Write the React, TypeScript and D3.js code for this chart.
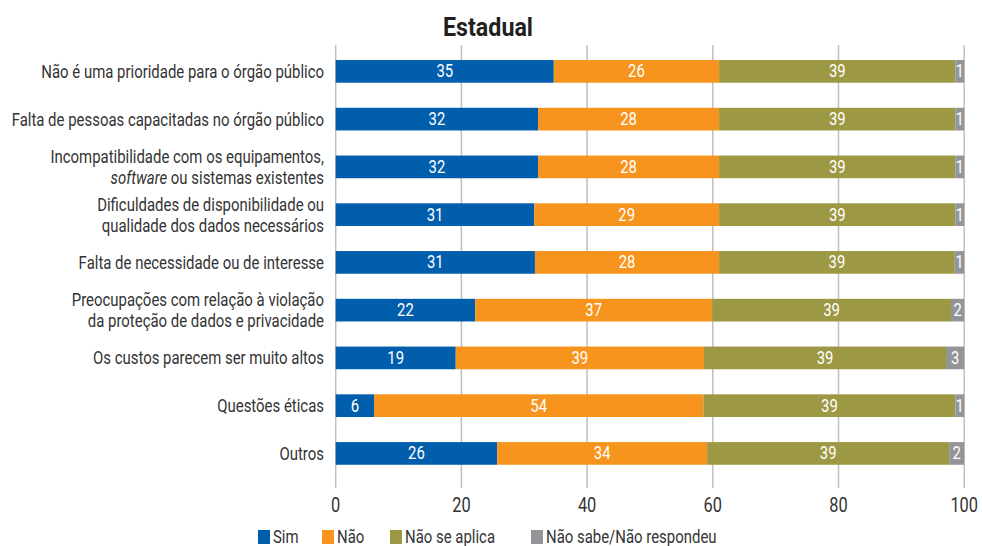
import React from "react";
import * as d3 from "d3";

const categories: string[][] = [
  ["Não é uma prioridade para o órgão público"],
  ["Falta de pessoas capacitadas no órgão público"],
  ["Incompatibilidade com os equipamentos,", "*software* ou sistemas existentes"],
  ["Dificuldades de disponibilidade ou", "qualidade dos dados necessários"],
  ["Falta de necessidade ou de interesse"],
  ["Preocupações com relação à violação", "da proteção de dados e privacidade"],
  ["Os custos parecem ser muito altos"],
  ["Questões éticas"],
  ["Outros"],
];

const seriesNames = ["Sim", "Não", "Não se aplica", "Não sabe/Não respondeu"];

// bar widths
const sim = [34.7, 32.2, 32.2, 31.6, 31.7, 22.2, 19.1, 6.1, 25.7];
const nao = [26.3, 28.8, 28.8, 29.4, 29.3, 37.7, 39.5, 52.4, 33.4];
const naoSeAplica = [37.6, 37.6, 37.6, 37.6, 37.5, 38.0, 38.5, 40.1, 38.5];
const naoSabe = [1.4, 1.4, 1.4, 1.4, 1.5, 2.1, 2.9, 1.4, 2.4];

// printed data labels
const simLabels = [35, 32, 32, 31, 31, 22, 19, 6, 26];
const naoLabels = [26, 28, 28, 29, 28, 37, 39, 54, 34];
const naoSeAplicaLabels = [39, 39, 39, 39, 39, 39, 39, 39, 39];
const naoSabeLabels = [1, 1, 1, 1, 1, 2, 3, 1, 2];

const xTicks = [0, 20, 40, 60, 80, 100];
const colors = ["#005EAD", "#F7941D", "#9C9843", "#939598"];

const FONT = "Roboto, 'Noto Sans', sans-serif";
const SX = 0.83;

type TProps = {
  x: number;
  y: number;
  anchor?: "start" | "middle" | "end";
  size: number;
  fill: string;
  weight?: string;
  sx?: number;
  children: React.ReactNode;
};

function T({ x, y, anchor = "start", size, fill, weight = "normal", sx = SX, children }: TProps) {
  return (
    <g transform={`translate(${x},${y}) scale(${sx},1)`}>
      <text textAnchor={anchor} fontSize={size} fill={fill} fontWeight={weight}>
        {children}
      </text>
    </g>
  );
}

export default function App() {
  const W = 982;
  const H = 546;
  const x = d3.scaleLinear().domain([0, 100]).range([335.7, 964.2]);
  const y = d3
    .scaleBand<number>()
    .domain(d3.range(categories.length))
    .range([47.5, 477.3])
    .paddingInner(0.525)
    .paddingOuter(0.2625);

  const values = [sim, nao, naoSeAplica, naoSabe];
  const labels = [simLabels, naoLabels, naoSeAplicaLabels, naoSabeLabels];

  const rows = categories.map((_, i) => {
    let acc = 0;
    return values.map((s, k) => {
      const x0 = acc;
      acc += s[i];
      return { k, x0, x1: acc, label: labels[k][i] };
    });
  });

  const renderLine = (line: string) => {
    const parts = line.split("*");
    return parts.map((p, j) => (
      <tspan key={j} fontStyle={j % 2 === 1 ? "italic" : "normal"}>
        {p}
      </tspan>
    ));
  };

  const legendX = [258, 322, 390, 531];

  return (
    <svg width={W} height={H} style={{ position: "absolute", left: 0, top: 0, fontFamily: FONT }}>
      <rect width={W} height={H} fill="#fff" />
      <T x={488} y={36} anchor="middle" size={25} weight="bold" fill="#231f20" sx={0.93}>
        Estadual
      </T>
      {xTicks.map((t) => (
        <g key={t}>
          <line x1={x(t)} x2={x(t)} y1={45} y2={488} stroke="#bfbfbf" strokeWidth={1.5} />
          <T x={x(t)} y={512} anchor="middle" size={20} fill="#333" sx={0.82}>
            {t}
          </T>
        </g>
      ))}
      {rows.map((segs, i) => {
        const yy = y(i)!;
        const bh = y.bandwidth();
        const cy = yy + bh / 2;
        const lines = categories[i];
        return (
          <g key={i}>
            {segs.map((s) => (
              <rect key={s.k} x={x(s.x0)} y={yy} width={x(s.x1) - x(s.x0)} height={bh} fill={colors[s.k]} />
            ))}
            {segs.map((s) => (
              <T key={"t" + s.k} x={(x(s.x0) + x(s.x1)) / 2} y={cy + 6} anchor="middle" size={17.5} fill="#fff" sx={0.85}>
                {s.label}
              </T>
            ))}
            {lines.map((ln, j) => (
              <T
                key={"l" + j}
                x={324}
                y={cy + 6.5 + (j - (lines.length - 1) / 2) * 21}
                anchor="end"
                size={18}
                fill="#333"
              >
                {renderLine(ln)}
              </T>
            ))}
          </g>
        );
      })}
      {seriesNames.map((n, k) => (
        <g key={n}>
          <rect x={legendX[k]} y={530} width={12} height={14} fill={colors[k]} />
          <T x={legendX[k] + 15} y={543} size={18} fill="#333">
            {n}
          </T>
        </g>
      ))}
    </svg>
  );
}
